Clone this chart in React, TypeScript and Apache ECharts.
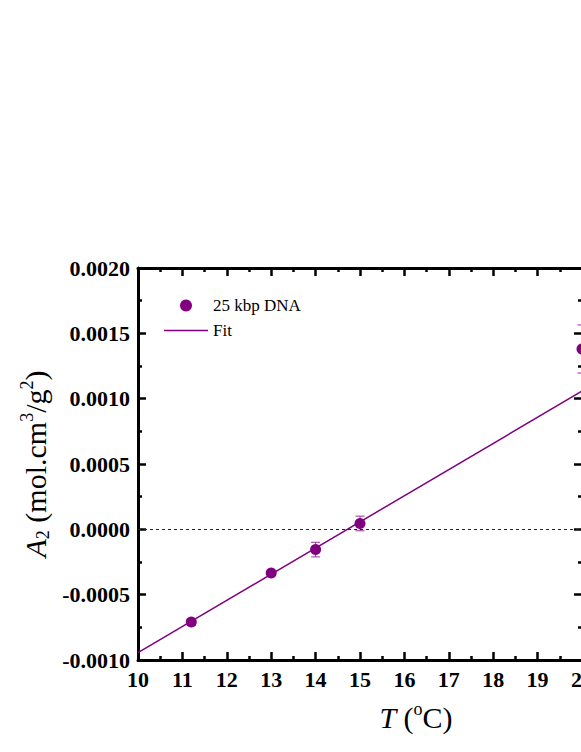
import React, { useEffect, useRef } from "react";
import * as echarts from "echarts";

const temperatures = [11.2, 13, 14, 15, 20];
const a2Values = [-0.00071, -0.000334, -0.000155, 0.000045, 0.00138];
const a2Errors = [0.000025, 0.00001, 0.000056, 0.000056, 0.000184];
const fitX = [10, 20];
const fitY = [-0.000944, 0.001058];
const seriesNames = ["25 kbp DNA", "Fit"];

const PURPLE = "#800080";
const FONT = "Liberation Serif";

export default function App() {
  const ref = useRef<HTMLDivElement>(null);
  useEffect(() => {
    if (!ref.current) return;
    const chart = echarts.init(ref.current, undefined, { renderer: "svg" });
    const pts = temperatures.map((t, i) => [t, a2Values[i]]);
    const errs = temperatures.map((t, i) => [t, a2Values[i], a2Errors[i]]);
    const fit = fitX.map((x, i) => [x, fitY[i]]);

    const axisCommon = {
      axisLine: { onZero: false, lineStyle: { color: "#000", width: 3 } },
      axisTick: { inside: true, length: 8, lineStyle: { color: "#000", width: 2.5 } },
      minorTick: { show: true, splitNumber: 2, length: 4, lineStyle: { color: "#000", width: 2.5 } },
      splitLine: { show: false },
    };

    chart.setOption({
      animation: false,
      grid: { left: 138, top: 268, width: 444, height: 392, containLabel: false, outerBoundsMode: "none" },
      legend: {
        left: 164,
        top: 297,
        padding: 0,
        orient: "vertical",
        itemWidth: 44,
        itemHeight: 12,
        itemGap: 8,
        selectedMode: false,
        textStyle: { fontFamily: FONT, fontSize: 17, color: "#000" },
        data: [
          { name: seriesNames[0], icon: "circle" },
          { name: seriesNames[1], icon: "path://M0,0 H44 V1.5 H0 Z" },
        ],
      },
      xAxis: [
        {
          type: "value",
          min: 10,
          max: 20,
          interval: 1,
          position: "bottom",
          ...axisCommon,
          axisLabel: { fontFamily: FONT, fontWeight: "bold", fontSize: 22, color: "#000", margin: 8, showMaxLabel: true },
        },
        {
          type: "value",
          min: 10,
          max: 20,
          interval: 1,
          position: "top",
          ...axisCommon,
          axisLabel: { show: false },
        },
      ],
      yAxis: [
        {
          type: "value",
          min: -0.001,
          max: 0.002,
          interval: 0.0005,
          position: "left",
          ...axisCommon,
          axisLabel: {
            fontFamily: FONT,
            fontWeight: "bold",
            fontSize: 22,
            color: "#000",
            margin: 8,
            formatter: (v: number) => (Math.abs(v) < 1e-12 ? "0.0000" : v.toFixed(4)),
          },
        },
        {
          type: "value",
          min: -0.001,
          max: 0.002,
          interval: 0.0005,
          position: "right",
          ...axisCommon,
          axisLabel: { show: false },
        },
      ],
      series: [
        {
          name: seriesNames[1],
          type: "line",
          data: fit,
          symbol: "none",
          lineStyle: { color: PURPLE, width: 1.5 },
          itemStyle: { color: PURPLE },
          z: 2,
          markLine: {
            silent: true,
            symbol: ["none", "none"],
            label: { show: false },
            lineStyle: { color: "#222", width: 1, type: [3, 3] },
            data: [{ yAxis: 0 }],
          },
        },
        {
          name: "errors",
          type: "custom",
          data: errs,
          z: 3,
          renderItem: (params: any, api: any) => {
            const x = api.value(0);
            const y = api.value(1);
            const e = api.value(2);
            const top = api.coord([x, y + e]);
            const bot = api.coord([x, y - e]);
            const hw = 4.5;
            const style = { stroke: "#a030a0", lineWidth: 1 };
            return {
              type: "group",
              children: [
                { type: "line", shape: { x1: top[0], y1: top[1], x2: bot[0], y2: bot[1] }, style },
                { type: "line", shape: { x1: top[0] - hw, y1: top[1], x2: top[0] + hw, y2: top[1] }, style },
                { type: "line", shape: { x1: bot[0] - hw, y1: bot[1], x2: bot[0] + hw, y2: bot[1] }, style },
              ],
            };
          },
        },
        {
          name: seriesNames[0],
          type: "scatter",
          data: pts,
          symbol: "circle",
          symbolSize: 11,
          itemStyle: { color: PURPLE, opacity: 1 },
          z: 4,
        },
      ],
      graphic: [
        {
          type: "text",
          x: 416,
          y: 717,
          style: {
            text: "{i|T}{n| (}{sup|o}{n|C)}",
            align: "center",
            verticalAlign: "middle",
            fill: "#000",
            rich: {
              i: { fontFamily: FONT, fontStyle: "italic", fontSize: 30, lineHeight: 34, verticalAlign: "middle" },
              n: { fontFamily: FONT, fontSize: 30, lineHeight: 34, verticalAlign: "middle" },
              sup: { fontFamily: FONT, fontSize: 18, lineHeight: 18, verticalAlign: "top" },
            },
          },
        },
        {
          type: "text",
          x: 35,
          y: 464,
          rotation: Math.PI / 2,
          style: {
            text: "{i|A}{sub|2}{n| (mol.cm}{sup|3}{n|/g}{sup|2}{n|)}",
            align: "center",
            verticalAlign: "middle",
            fill: "#000",
            rich: {
              i: { fontFamily: FONT, fontStyle: "italic", fontSize: 30, lineHeight: 34, verticalAlign: "middle" },
              n: { fontFamily: FONT, fontSize: 30, lineHeight: 34, verticalAlign: "middle" },
              sup: { fontFamily: FONT, fontSize: 18, lineHeight: 18, verticalAlign: "top" },
              sub: { fontFamily: FONT, fontSize: 18, lineHeight: 14, verticalAlign: "bottom" },
            },
          },
        },
      ],
    });
    return () => chart.dispose();
  }, []);

  return (
    <div
      ref={ref}
      style={{ position: "fixed", left: 0, top: 0, width: 581, height: 752, background: "#fff" }}
    />
  );
}
